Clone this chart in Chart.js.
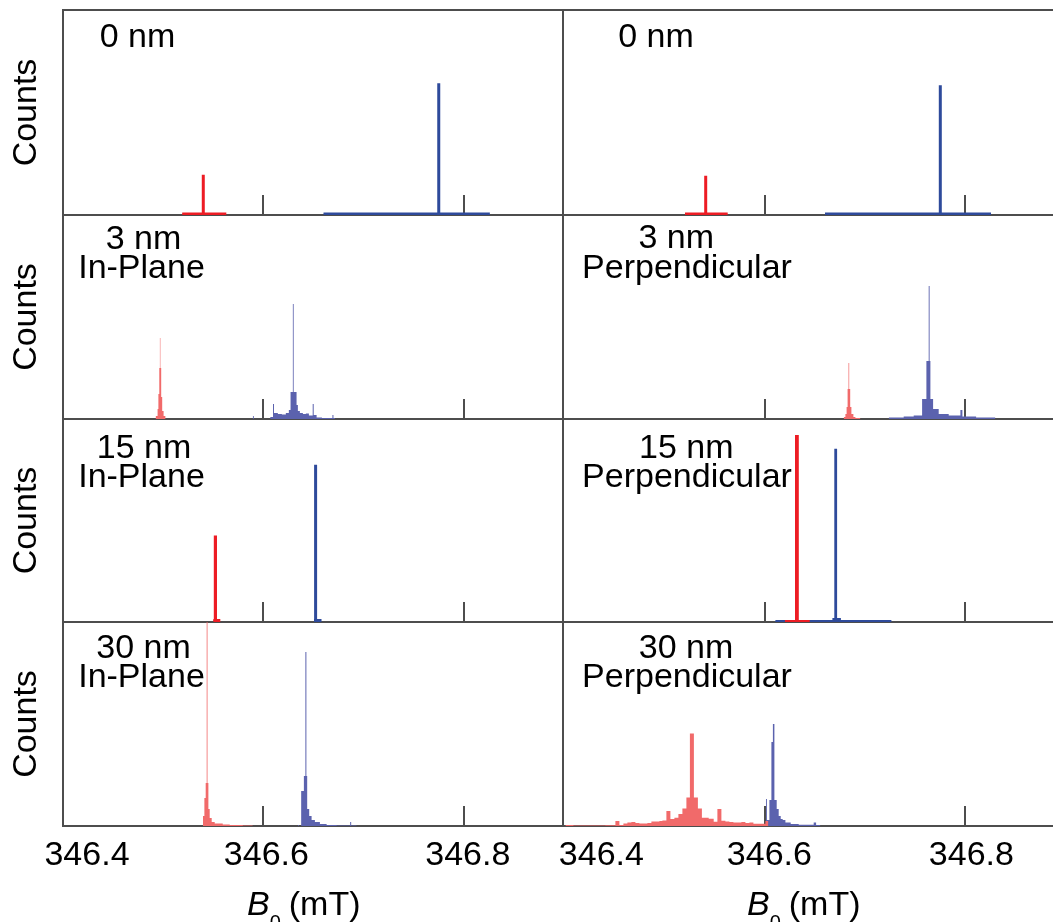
<!DOCTYPE html>
<html>
<head>
<meta charset="utf-8">
<title>B0 histograms</title>
<script src="https://cdn.jsdelivr.net/npm/chart.js@4.4.1/dist/chart.umd.min.js"></script>
<style>
  html, body { margin: 0; padding: 0; background: #fff; }
  #figure { position: relative; width: 1053px; height: 922px; overflow: hidden; }
  #figure canvas { position: absolute; }
</style>
</head>
<body>
<div id="figure"></div>
<script>
// histogram series: [left bin edge in mT, counts]; each count holds until the next edge
const redInPlane0 = [[346.519, 1.5], [346.5395, 39], [346.5405, 1.5], [346.562, 0]];
const blueInPlane0 = [[346.660, 1.5], [346.7745, 130], [346.7755, 1.5], [346.825, 0]];
const redPerp0 = [[346.5196, 1.5], [346.5398, 38], [346.5408, 1.5], [346.5613, 0]];
const bluePerp0 = [[346.6596, 1.5], [346.7744, 128], [346.7754, 1.5], [346.8246, 0]];

const redInPlane3 = [[346.4924, 3], [346.4944, 10], [346.4952, 25], [346.4961, 51], [346.4967, 81],
  [346.4972, 51], [346.4980, 22], [346.4990, 8], [346.5004, 3], [346.5024, 0]];
const blueInPlane3 = [[346.5894, 3], [346.5904, 0], [346.6069, 2], [346.6096, 15], [346.6106, 6],
  [346.6144, 5], [346.6184, 4.5], [346.6224, 6], [346.6254, 9], [346.6271, 27], [346.6294, 115],
  [346.6302, 27], [346.6331, 14], [346.6344, 8], [346.6364, 6], [346.6394, 5], [346.6424, 5.5],
  [346.6454, 3.5], [346.6492, 15], [346.6502, 4], [346.6531, 1.5], [346.6584, 1], [346.6689, 4],
  [346.6699, 1], [346.6714, 0]];
const redPerp3 = [[346.6783, 2], [346.6800, 5], [346.6812, 12], [346.6822, 30], [346.6831, 56],
  [346.6838, 30], [346.6848, 12], [346.6860, 5], [346.6880, 2], [346.6900, 1], [346.6950, 0]];
const bluePerp3 = [[346.7233, 1.5], [346.7383, 2.5], [346.7483, 3.5], [346.7567, 20], [346.7610, 58],
  [346.7633, 133], [346.7642, 58], [346.7650, 20], [346.7677, 10], [346.7733, 5], [346.7833, 3.5],
  [346.7950, 9], [346.7970, 2.5], [346.8107, 1.5], [346.8300, 0]];

const redInPlane15 = [[346.5500, 2], [346.5515, 86], [346.5527, 2], [346.5560, 0]];
const blueInPlane15 = [[346.6505, 2], [346.6516, 157], [346.6526, 2], [346.6570, 0]];
const redPerp15 = [[346.6195, 1], [346.6306, 187], [346.6324, 1], [346.6433, 0]];
const bluePerp15 = [[346.6100, 1], [346.6680, 3], [346.6699, 173], [346.6707, 3], [346.6745, 1], [346.7250, 0]];

const redInPlane30 = [[346.5397, 10], [346.5411, 28], [346.5424, 43], [346.5434, 260], [346.5442, 43],
  [346.5451, 17], [346.5464, 8], [346.5484, 4], [346.5514, 2.5], [346.5594, 1.5], [346.5664, 1],
  [346.5794, 0.5], [346.5894, 0]];
const blueInPlane30 = [[346.6344, 1], [346.6354, 0], [346.6377, 35], [346.6404, 50], [346.6419, 174],
  [346.6429, 50], [346.6437, 17], [346.6457, 10], [346.6481, 6], [346.6514, 4], [346.6564, 2],
  [346.6631, 1], [346.6731, 0.5], [346.6866, 4], [346.6876, 0.5], [346.6931, 0]];
const redPerp30 = [[346.400, 1], [346.408, 0.5], [346.440, 0.8], [346.450, 5], [346.454, 1], [346.458, 2.5],
  [346.462, 3.5], [346.466, 4], [346.470, 3], [346.474, 2.5], [346.478, 2.5], [346.482, 3], [346.486, 4.5],
  [346.490, 4.5], [346.494, 5], [346.497, 5.5], [346.501, 15], [346.505, 7], [346.509, 8.3], [346.513, 12],
  [346.517, 17.5], [346.521, 28.5], [346.5245, 92.5], [346.5285, 28.5], [346.5325, 17.5], [346.5365, 8.3],
  [346.5433, 7.3], [346.5483, 4.3], [346.552, 17], [346.556, 5.3], [346.560, 4.5], [346.564, 4],
  [346.568, 3.5], [346.572, 3.5], [346.576, 4], [346.580, 3], [346.584, 3.5], [346.588, 2.3],
  [346.600, 5], [346.603, 0]];
const bluePerp30 = [[346.6005, 27], [346.6015, 6], [346.6040, 26], [346.6060, 84], [346.6075, 102],
  [346.6090, 26], [346.6113, 17], [346.6133, 10], [346.6153, 7], [346.6173, 6], [346.6200, 3.5],
  [346.6253, 2], [346.6333, 1.2], [346.6483, 3.5], [346.6507, 1], [346.6550, 0]];

const xTickValues = [346.4, 346.6, 346.8];
const xTickLabels = ['346.4', '346.6', '346.8'];
const thicknessLabels = ['0 nm', '3 nm', '15 nm', '30 nm'];
const orientationLabels = ['In-Plane', 'Perpendicular'];

const FONT = "'Liberation Sans', Arial, Helvetica, sans-serif";
const AXIS = '#4d4d4d';
const COLORS = {
  solid: { red: '#ed1c24', blue: '#2e4a9b' },
  soft: { red: '#f16a6a', blue: '#5b62ae' }
};
const Y_MAX = 204;

Chart.defaults.font.family = FONT;

// frame geometry: row tops/bottoms of the plot areas, and the two columns
const ROW_TOP = [10, 215, 419, 622];
const ROW_BOTTOM = [215, 419, 622, 826];
const COLS = [
  { left: 0, width: 564, axisWidth: 63, min: 346.4, max: 346.9, labelShift: [24, 3, 4] },
  { left: 553, width: 500, axisWidth: 10, min: 346.3976, max: 346.8876, labelShift: [36, 4, 6] }
];

const panels = [
  { row: 0, col: 0, red: redInPlane0, blue: blueInPlane0, style: 'solid',
    text: [[thicknessLabels[0], 74.5, 37]] },
  { row: 0, col: 1, red: redPerp0, blue: bluePerp0, style: 'solid',
    text: [[thicknessLabels[0], 93, 37]] },
  { row: 1, col: 0, red: redInPlane3, blue: blueInPlane3, style: 'soft',
    text: [[thicknessLabels[1], 80.5, 34], [orientationLabels[0], 78.5, 63]] },
  { row: 1, col: 1, red: redPerp3, blue: bluePerp3, style: 'soft',
    text: [[thicknessLabels[1], 113.3, 33], [orientationLabels[1], 124, 63]] },
  { row: 2, col: 0, red: redInPlane15, blue: blueInPlane15, style: 'solid',
    text: [[thicknessLabels[2], 81, 39], [orientationLabels[0], 78.5, 68]] },
  { row: 2, col: 1, red: redPerp15, blue: bluePerp15, style: 'solid',
    text: [[thicknessLabels[2], 123.3, 39], [orientationLabels[1], 124, 68]] },
  { row: 3, col: 0, red: redInPlane30, blue: blueInPlane30, style: 'soft',
    text: [[thicknessLabels[3], 80.5, 36], [orientationLabels[0], 78.5, 65]] },
  { row: 3, col: 1, red: redPerp30, blue: bluePerp30, style: 'soft',
    text: [[thicknessLabels[3], 123, 36], [orientationLabels[1], 124, 65]] }
];

// panel captions, plus tick labels and the B0 axis title on the bottom row
const panelText = {
  id: 'panelText',
  afterDraw(chart, args, opts) {
    const { ctx, chartArea } = chart;
    ctx.save();
    ctx.fillStyle = '#000';
    ctx.textBaseline = 'alphabetic';
    ctx.textAlign = 'center';
    ctx.font = '34px ' + FONT;
    opts.lines.forEach(([text, dx, dy]) => {
      ctx.fillText(text, chartArea.left + dx, chartArea.top + dy);
    });
    if (opts.bottomAxis) {
      const xs = chart.scales.x;
      xTickValues.forEach((v, i) => {
        ctx.fillText(xTickLabels[i], xs.getPixelForValue(v) + opts.labelShift[i], chartArea.bottom + 39);
      });
      ctx.textAlign = 'left';
      let x = chartArea.left + 184;
      const y = chartArea.bottom + 89;
      ctx.font = 'italic 34px ' + FONT;
      ctx.fillText('B', x, y);
      x += ctx.measureText('B').width;
      ctx.font = '20px ' + FONT;
      ctx.fillText('0', x, y + 14);
      x += ctx.measureText('0').width + 8;
      ctx.font = '34px ' + FONT;
      ctx.fillText('(mT)', x, y);
    }
    ctx.restore();
  }
};

function histogram(points, color, solid) {
  return {
    data: points.map(([x, y]) => ({ x, y })),
    stepped: true,
    fill: 'origin',
    backgroundColor: color,
    borderColor: color,
    borderWidth: solid ? 2 : 0,
    pointRadius: 0,
    clip: { left: 0, top: 0, right: 0, bottom: 2 }
  };
}

const figure = document.getElementById('figure');

panels.forEach(p => {
  const col = COLS[p.col];
  const first = p.row === 0;
  const last = p.row === 3;
  const canvasTop = first ? 0 : ROW_TOP[p.row];
  const xAxisHeight = last ? 96 : 2;
  const canvas = document.createElement('canvas');
  canvas.width = col.width;
  canvas.height = ROW_BOTTOM[p.row] - canvasTop + xAxisHeight;
  canvas.style.left = col.left + 'px';
  canvas.style.top = canvasTop + 'px';
  figure.appendChild(canvas);

  const colors = COLORS[p.style];
  const solid = p.style === 'solid';

  const scales = {
    x: {
      type: 'linear',
      position: 'bottom',
      min: col.min,
      max: col.max,
      afterBuildTicks: s => { s.ticks = xTickValues.filter(v => v > s.min + 0.01).map(v => ({ value: v })); },
      afterFit: s => { s.height = xAxisHeight; },
      ticks: { display: false },
      grid: { display: true, drawOnChartArea: false, drawTicks: true, tickLength: -20, color: AXIS, lineWidth: 2 },
      border: { display: true, color: AXIS, width: 2 }
    },
    y: {
      position: 'left',
      min: 0,
      max: Y_MAX,
      afterFit: s => { s.width = col.axisWidth; },
      ticks: { display: false },
      grid: { display: false },
      border: { display: true, color: AXIS, width: 2 },
      title: {
        display: p.col === 0,
        text: 'Counts',
        color: '#000',
        font: { size: 34 },
        padding: { top: 6, bottom: 0 }
      }
    }
  };
  if (first) {
    // top edge of the frame
    scales.frameTop = {
      axis: 'x',
      type: 'linear',
      position: 'top',
      display: true,
      afterFit: s => { s.height = 10; },
      ticks: { display: false },
      grid: { display: false },
      border: { display: true, color: AXIS, width: 2 }
    };
  }

  new Chart(canvas, {
    type: 'line',
    data: {
      datasets: [
        histogram(p.red, colors.red, solid),
        histogram(p.blue, colors.blue, solid)
      ]
    },
    options: {
      responsive: false,
      animation: false,
      devicePixelRatio: 1,
      events: [],
      layout: { padding: 0 },
      plugins: {
        legend: { display: false },
        tooltip: { enabled: false },
        panelText: { lines: p.text, bottomAxis: last, labelShift: col.labelShift }
      },
      scales
    },
    plugins: [panelText]
  });
});
</script>
</body>
</html>
